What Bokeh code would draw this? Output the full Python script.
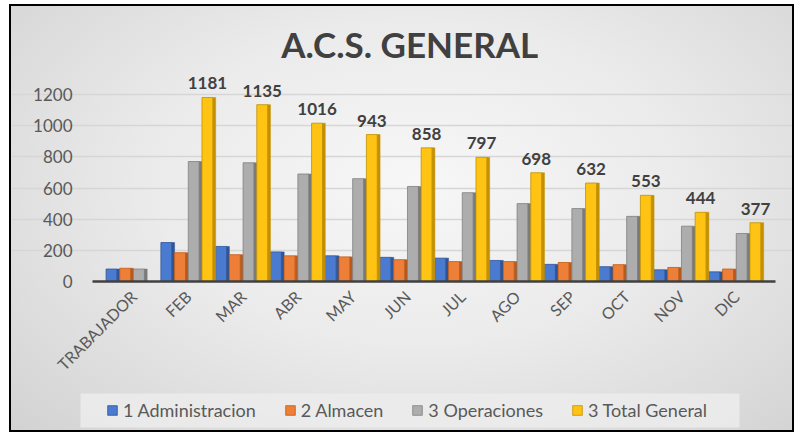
import math
from bokeh.plotting import figure
from bokeh.models import (FixedTicker, Legend, LegendItem, LinearAxis,
                          BoxAnnotation, Label)
from bokeh.core.properties import value
from bokeh.embed import file_html
from bokeh.resources import INLINE

# ---------------- data ----------------
categories = ["TRABAJADOR", "FEB", "MAR", "ABR", "MAY", "JUN", "JUL",
              "AGO", "SEP", "OCT", "NOV", "DIC"]
administracion = [80, 250, 225, 190, 165, 155, 150, 135, 110, 95, 75, 62]
almacen = [85, 185, 172, 165, 158, 140, 128, 128, 122, 108, 90, 80]
operaciones = [80, 770, 762, 690, 660, 610, 570, 500, 468, 418, 355, 308]
total_general = [None, 1181, 1135, 1016, 943, 858, 797, 698, 632, 553, 444, 377]
series_names = ["1 Administracion", "2 Almacen", "3 Operaciones", "3 Total General"]
y_ticks = [0, 200, 400, 600, 800, 1000, 1200]

front_colors = ["#4A7BD0", "#EE7F38", "#ADADAD", "#FFC313"]
side_colors = ["#2F5597", "#B85A1C", "#7A7A7A", "#C49000"]
edge_colors = ["#2F5597", "#C55A11", "#808080", "#BF9000"]

FONT = "Lato"
W, H = 785, 428
# plotting region (category axis spans X0..X1, value axis 0..)
X0, X1 = -0.748, 11.71

p = figure(width=W, height=H, output_backend="svg", toolbar_location=None,
           x_range=(-2.226, 12.099), y_range=(-982, 1765),
           x_axis_location=None, y_axis_location=None,
           min_border_left=0, min_border_right=0, min_border_top=0,
           min_border_bottom=0)
p.styles = {"background": "radial-gradient(ellipse 75% 85% at 52% 42%, #f7f7f7 0%, #ebebeb 45%, #d1d1d1 100%)",
            "border": "2px solid #000", "margin-left": "9px", "margin-top": "4px"}
p.border_fill_alpha = 0
p.background_fill_alpha = 0
p.outline_line_color = None

# title
p.add_layout(Label(x=5.04, y=1527, text="A.C.S. GENERAL", text_align="center",
                   text_baseline="middle", text_font=FONT, text_font_size="35px",
                   text_font_style="bold", text_color="#404040"))

# legend background box
p.add_layout(BoxAnnotation(left=-0.967, right=11.059, bottom=-937, top=-719,
                           fill_color="#ececec", fill_alpha=0.85, line_color=None,
                           level="underlay"))

p.xgrid.grid_line_color = None
p.ygrid.ticker = FixedTicker(ticks=y_ticks[1:])
p.ygrid.bounds = (X0 + 0.05, X1 - 0.3)
p.ygrid.grid_line_color = "#d6d6d6"
p.ygrid.grid_line_width = 1.5

xs = list(range(len(categories)))
series = [administracion, almacen, operaciones, total_general]
offsets = [-0.375, -0.125, 0.125, 0.375]
items = []
for i, vals in enumerate(series):
    xv = [x + offsets[i] for x, v in zip(xs, vals) if v is not None]
    yv = [v for v in vals if v is not None]
    front = p.vbar(x=[x - 0.025 for x in xv], top=yv, bottom=0, width=0.2,
                   fill_color=front_colors[i], line_color=edge_colors[i], line_width=0.8)
    p.vbar(x=[x + 0.1 for x in xv], top=yv, bottom=0, width=0.05,
           fill_color=side_colors[i], line_color=side_colors[i], line_width=0.5)
    items.append(LegendItem(label=series_names[i], renderers=[front]))

# data labels for total
lab_x = [x + offsets[3] - 0.025 for x, v in zip(xs, total_general) if v is not None]
lab_y = [v for v in total_general if v is not None]
lab_t = [str(v) for v in total_general if v is not None]
p.text(x=lab_x, y=lab_y, text=lab_t, text_align="center", text_baseline="bottom",
       y_offset=-8, text_font=value(FONT), text_font_size="17px",
       text_font_style="bold", text_color="#404040")

# axes
xaxis = LinearAxis(fixed_location=0, bounds=(X0, X1))
xaxis.ticker = FixedTicker(ticks=xs)
xaxis.major_label_overrides = {i: c for i, c in enumerate(categories)}
xaxis.major_label_orientation = math.pi / 4
xaxis.major_label_text_font = FONT
xaxis.major_label_text_font_size = "16px"
xaxis.major_label_text_color = "#595959"
xaxis.major_tick_line_color = None
xaxis.minor_tick_line_color = None
xaxis.axis_line_color = "#404040"
xaxis.axis_line_width = 2.5
xaxis.major_label_standoff = 6
p.add_layout(xaxis, "below")

yaxis = LinearAxis(fixed_location=X0, bounds=(0, 1200))
yaxis.ticker = FixedTicker(ticks=y_ticks)
yaxis.major_label_text_font = FONT
yaxis.major_label_text_font_size = "17px"
yaxis.major_label_text_color = "#595959"
yaxis.major_tick_line_color = None
yaxis.minor_tick_line_color = None
yaxis.axis_line_color = None
yaxis.major_label_standoff = 14
p.add_layout(yaxis, "left")

legend = Legend(items=items, orientation="horizontal", location=(95, 13),
                glyph_width=12, glyph_height=12, label_standoff=5, spacing=28,
                padding=7, margin=0, border_line_color=None,
                background_fill_alpha=0,
                label_text_font=FONT, label_text_font_size="18px",
                label_text_color="#595959")
p.add_layout(legend, "center")

open("out.html", "w").write(file_html(p, INLINE))
